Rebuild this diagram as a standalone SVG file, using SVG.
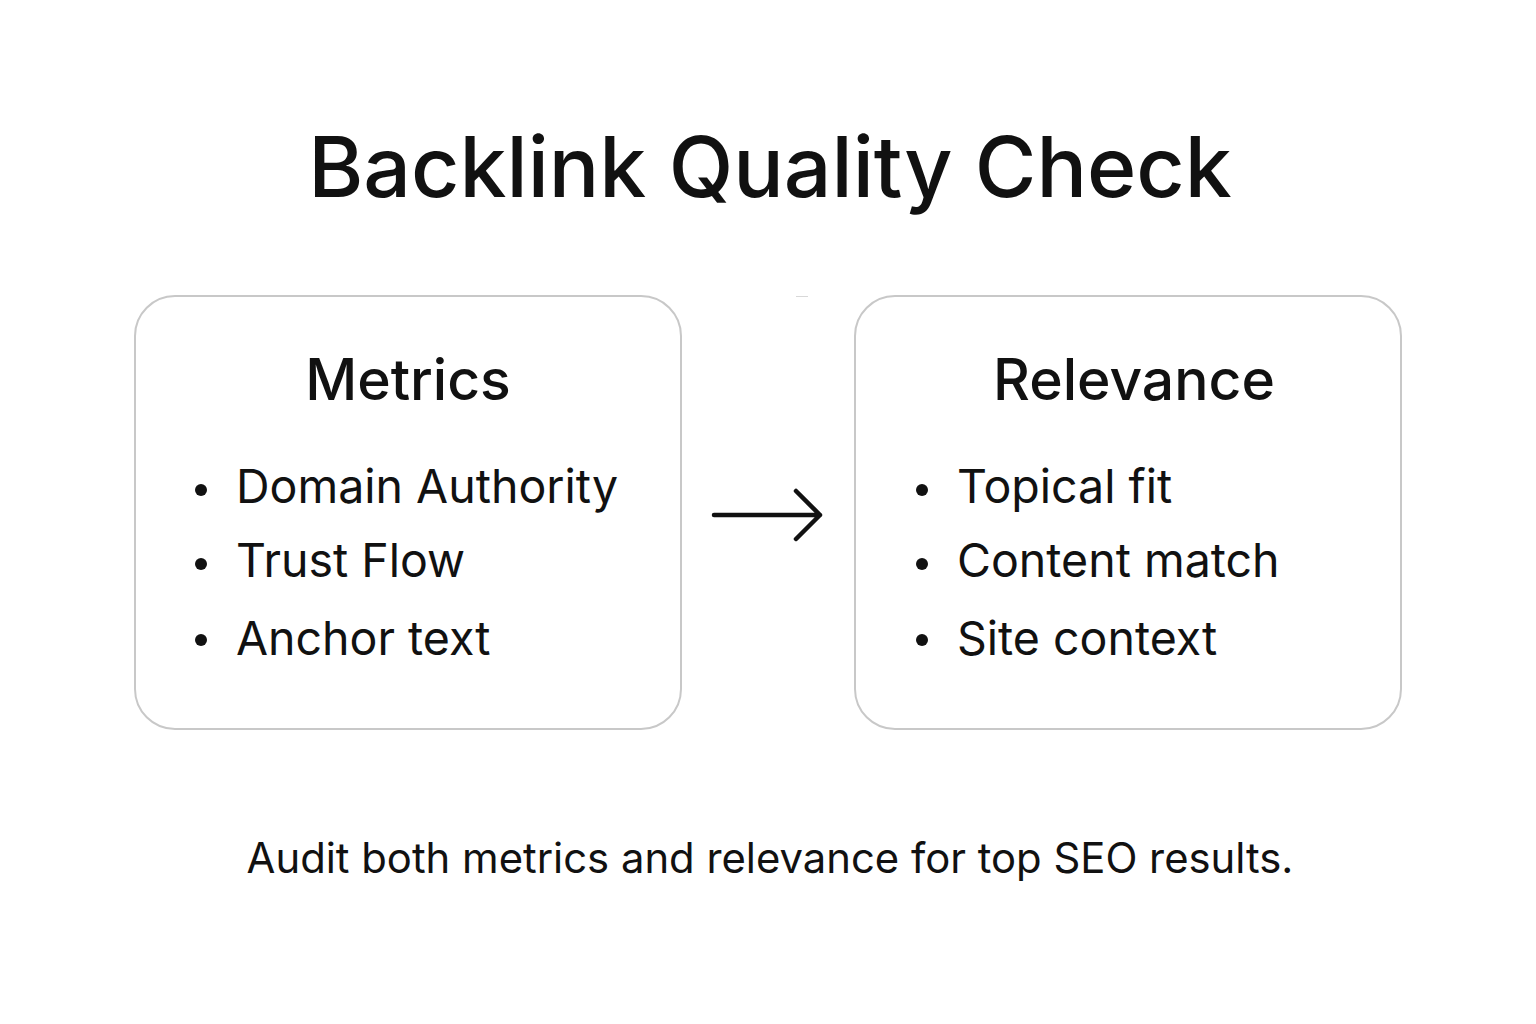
<svg xmlns="http://www.w3.org/2000/svg" width="1536" height="1024" viewBox="0 0 1536 1024">
<style>
.box{fill:#ffffff;stroke:#c8c8c8;stroke-width:2}
.t{font-family:Inter,"Noto Sans","Liberation Sans",sans-serif;fill:#111111}
.title{font-size:84px;font-weight:500}
.head{font-size:57px;font-weight:500;text-anchor:middle}
.item{font-size:46.5px;font-weight:400}
.foot{font-size:41.8px;font-weight:400;text-anchor:middle}
.arrow{fill:none;stroke:#111111;stroke-width:4.5;stroke-linecap:round;stroke-linejoin:round}
</style>
<rect width="1536" height="1024" fill="#ffffff"/>
<text class="t title" x="770" y="197" text-anchor="middle">Backlink Quality Check</text>
<line x1="796" y1="296.5" x2="808" y2="296.5" stroke="#d8d8d8" stroke-width="1"/>
<g id="metrics">
<rect class="box" x="135" y="296" width="546" height="433" rx="40"/>
<text class="t head" x="408" y="400">Metrics</text>
<circle cx="201" cy="490" r="6" fill="#111"/>
<circle cx="201" cy="564" r="6" fill="#111"/>
<circle cx="201" cy="640" r="6" fill="#111"/>
<text class="t item" x="236" y="503">Domain Authority</text>
<text class="t item" x="236" y="577">Trust Flow</text>
<text class="t item" x="236" y="655">Anchor text</text>
</g>
<g id="relevance">
<rect class="box" x="855" y="296" width="546" height="433" rx="40"/>
<text class="t head" x="1134" y="400">Relevance</text>
<circle cx="922" cy="490" r="6" fill="#111"/>
<circle cx="922" cy="564" r="6" fill="#111"/>
<circle cx="922" cy="640" r="6" fill="#111"/>
<text class="t item" x="957" y="503">Topical fit</text>
<text class="t item" x="957" y="577">Content match</text>
<text class="t item" x="957" y="655">Site context</text>
</g>
<g id="connectors">
<path class="arrow" d="M714 515 H820 M796 491 L820 515 L796 539"/>
</g>
<text class="t foot" x="770" y="873">Audit both metrics and relevance for top SEO results.</text>
</svg>
